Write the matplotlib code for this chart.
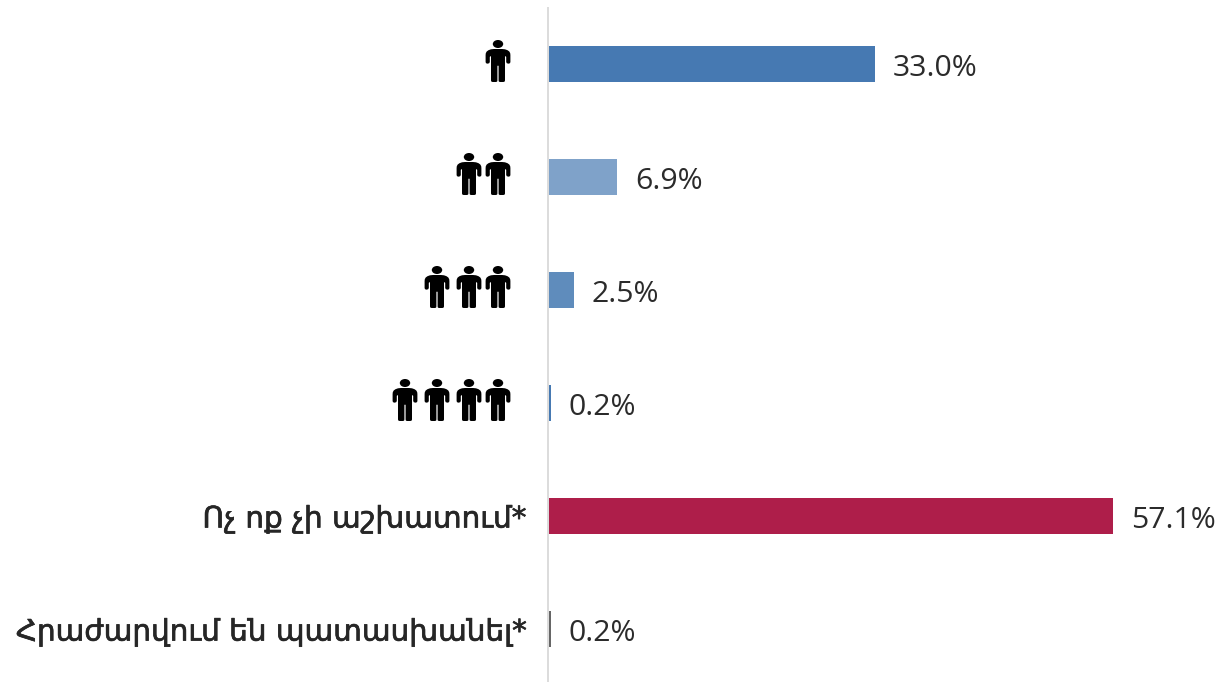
import matplotlib
matplotlib.use('Agg')
import matplotlib.pyplot as plt
import matplotlib.patheffects as pe
from matplotlib.patches import PathPatch
from matplotlib.path import Path
from matplotlib.transforms import Affine2D

labels = ['', '', '', '', 'Ոչ ոք չի աշխատում*', 'Հրաժարվում են պատասխանել*']
people = [1, 2, 3, 4, 0, 0]
values = [33.0, 6.9, 2.5, 0.2, 57.1, 0.2]
colors = ['#4679B2', '#7FA2C9', '#5F8CBC', '#4679B2', '#AE1E4A', '#666666']

W, H = 1221, 682
px_per_pct = 9.88
zero_px = 548
first_row = 64
row_step = 113


def person_path():
    # outline in pixels, y pointing down, origin at the top of the head
    head = Path.unit_circle().transformed(Affine2D().scale(5.2, 4).translate(0, 4))
    half = [(0, 9), (4, 9), (7, 9.3), (9.5, 10.2), (11.3, 11.5), (12.2, 13.2), (12.4, 15), (12.4, 22),
            (12, 23.2), (10.4, 23.7), (8.8, 23.2), (8.2, 22), (8.2, 17), (7.8, 16.2), (7, 16.5),
            (7, 40.5), (6.6, 41.6), (5.4, 42), (2, 42), (0.9, 41.6), (0.6, 40.5), (0.6, 26), (0, 25.5)]
    left = [(-x, y) for x, y in half[-2:0:-1]]
    pts = half + left + [(0, 9)]
    codes = [Path.MOVETO] + [Path.LINETO] * (len(pts) - 2) + [Path.CLOSEPOLY]
    return Path.make_compound_path(head, Path(pts, codes))


fig = plt.figure(figsize=(W / 100, H / 100), dpi=100)
ax = fig.add_axes([0, 0, 1, 1])
ax.set_xlim(-zero_px / px_per_pct, (W - zero_px) / px_per_pct)
ax.set_ylim((H - first_row) / row_step, -first_row / row_step)
ax.axis('off')

rows = list(range(len(values)))
ax.barh(rows, values, height=36 / row_step, color=colors, linewidth=0, left=0.1)
ax.vlines(0, (7 - first_row) / row_step, (H - first_row) / row_step, color='#D9D9D9', linewidth=1.3)

for r, v in zip(rows, values):
    ax.annotate(f'{v:.1f}%', (v, r), xytext=(13.5, -3), textcoords='offset points', va='center', ha='left',
                family='Open Sans', fontsize=21.8, color='#2B2B2B')

for r, lab in zip(rows, labels):
    if lab:
        ax.annotate(lab, (0, r), xytext=(-16, -2.5), textcoords='offset points', va='center', ha='right',
                    family='DejaVu Sans', fontsize=21.2, color='#262626',
                    path_effects=[pe.withStroke(linewidth=0.5, foreground='#262626')])

icon = person_path()
gaps = [0, 29, 61, 93]
for r, n in zip(rows, people):
    x0, y0 = ax.transData.transform((0, r))
    for k in range(n):
        tr = Affine2D().scale(1, -1).translate(x0 - 50 - gaps[k], y0 + 24)
        ax.add_patch(PathPatch(icon, transform=tr, facecolor='black', edgecolor='none'))

fig.savefig('out.png', dpi=100)
